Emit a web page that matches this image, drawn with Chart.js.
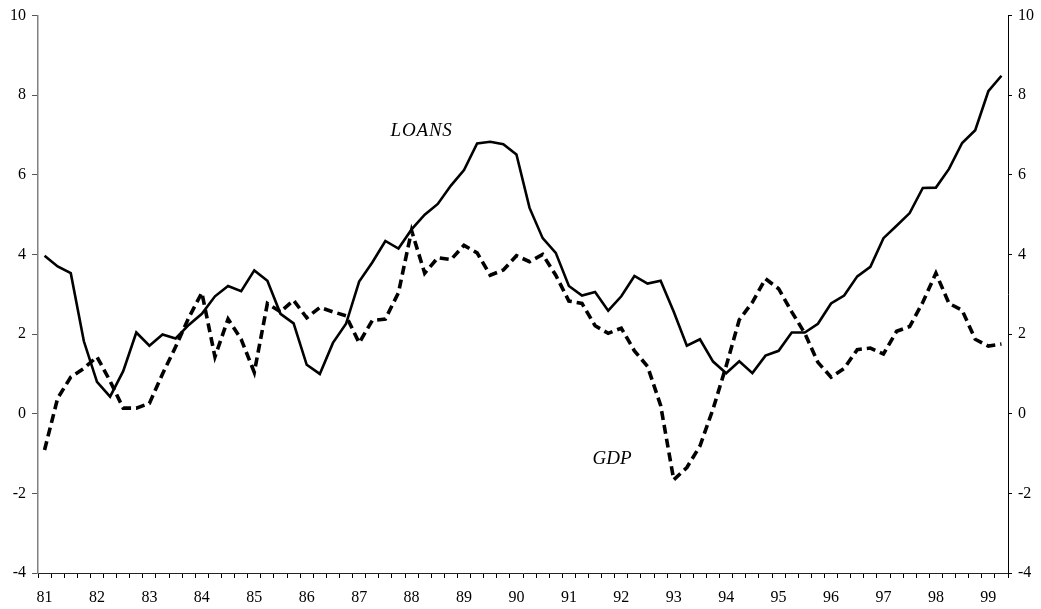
<!DOCTYPE html>
<html>
<head>
<meta charset="utf-8">
<script src="https://cdn.jsdelivr.net/npm/chart.js@4/dist/chart.umd.min.js"></script>
<style>
  html, body { margin: 0; padding: 0; background: #fff; }
  #wrap { width: 1041px; height: 609px; }
</style>
</head>
<body>
<div id="wrap"><canvas id="c" width="1041" height="609"></canvas></div>
<script>
// Quarterly observations, 1981Q1 - 1999Q2
const years = ['81','82','83','84','85','86','87','88','89','90','91','92','93','94','95','96','97','98','99'];
const quarters = [];
years.forEach(y => { for (let q = 1; q <= 4; q++) quarters.push(y + 'Q' + q); });
const categories = quarters.slice(0, 74);

// Bank loans, annual % change
const loans = [
  3.97, 3.70, 3.53, 1.82, 0.80, 0.43, 1.07, 2.04, 1.71, 1.99,
  1.89, 2.23, 2.51, 2.95, 3.21, 3.08, 3.60, 3.34, 2.51, 2.27,
  1.23, 1.00, 1.78, 2.26, 3.32, 3.80, 4.34, 4.15, 4.63, 5.00,
  5.27, 5.73, 6.12, 6.79, 6.83, 6.77, 6.51, 5.17, 4.41, 4.04,
  3.21, 2.97, 3.06, 2.59, 2.95, 3.46, 3.27, 3.34, 2.56, 1.71,
  1.87, 1.31, 1.02, 1.32, 1.02, 1.46, 1.58, 2.04, 2.04, 2.26,
  2.77, 2.97, 3.45, 3.69, 4.41, 4.72, 5.04, 5.67, 5.68, 6.15,
  6.80, 7.12, 8.10, 8.49
];

// Real GDP, annual % change
const gdp = [
  -0.91, 0.39, 0.92, 1.14, 1.43, 0.82, 0.14, 0.14, 0.26, 1.00,
  1.68, 2.41, 3.04, 1.43, 2.38, 1.87, 1.04, 2.77, 2.56, 2.85,
  2.41, 2.67, 2.56, 2.46, 1.78, 2.34, 2.38, 3.04, 4.60, 3.53,
  3.92, 3.87, 4.23, 4.04, 3.48, 3.61, 3.97, 3.82, 4.00, 3.48,
  2.83, 2.77, 2.21, 2.02, 2.15, 1.58, 1.19, 0.21, -1.66, -1.35,
  -0.81, 0.12, 1.20, 2.36, 2.80, 3.39, 3.14, 2.56, 2.02, 1.29,
  0.92, 1.14, 1.61, 1.65, 1.50, 2.07, 2.19, 2.80, 3.53, 2.77,
  2.60, 1.87, 1.70, 1.75
];

const yMin = -4, yMax = 10, yStep = 2;
const serif = "'Liberation Serif', 'Times New Roman', serif";

// Series names written beside the lines, placed in data coordinates
const seriesLabels = [
  { text: 'LOANS', at: 26.4, value: 6.98, spacing: '0.8px' },
  { text: 'GDP',   at: 41.8, value: -1.27, spacing: '0px' }
];

const labelPlugin = {
  id: 'seriesLabels',
  afterDatasetsDraw(chart) {
    const { ctx, scales } = chart;
    ctx.save();
    ctx.font = "italic 19px " + serif;
    ctx.fillStyle = '#000';
    ctx.textAlign = 'left';
    ctx.textBaseline = 'alphabetic';
    seriesLabels.forEach(l => {
      ctx.letterSpacing = l.spacing;
      ctx.fillText(l.text, scales.x.getPixelForValue(l.at), scales.y.getPixelForValue(l.value));
    });
    ctx.restore();
  }
};

const tickFont = { family: serif, size: 16 };

new Chart(document.getElementById('c'), {
  type: 'line',
  data: {
    labels: categories,
    datasets: [
      {
        label: 'LOANS',
        data: loans,
        borderColor: '#000',
        borderWidth: 2.6,
        pointRadius: 0,
        tension: 0,
        fill: false
      },
      {
        label: 'GDP',
        data: gdp,
        borderColor: '#000',
        borderWidth: 3.6,
        borderDash: [9, 5],
        pointRadius: 0,
        tension: 0,
        fill: false
      }
    ]
  },
  options: {
    responsive: false,
    animation: false,
    layout: { padding: { top: 13, left: 0, right: 0, bottom: 0 } },
    plugins: { legend: { display: false }, tooltip: { enabled: false } },
    scales: {
      x: {
        type: 'category',
        offset: true,
        grid: { offset: true, drawOnChartArea: false, drawTicks: true, tickLength: 5, color: '#000', lineWidth: 1 },
        border: { display: true, color: '#222', width: 1 },
        ticks: {
          autoSkip: false,
          maxRotation: 0,
          minRotation: 0,
          padding: 10,
          color: '#000',
          font: tickFont,
          callback: function (v, i) {
            const lab = categories[i];
            return lab.endsWith('Q1') ? lab.slice(0, 2) : '';
          }
        },
        afterFit: s => { s.height = 36; }
      },
      y: {
        position: 'left',
        min: yMin, max: yMax,
        grid: { drawOnChartArea: false, drawTicks: true, tickLength: 6, color: '#555' },
        border: { display: true, color: '#808080', width: 1.5 },
        ticks: { stepSize: yStep, padding: 6, color: '#000', font: tickFont },
        afterFit: s => { s.width = 38; }
      },
      y2: {
        position: 'right',
        min: yMin, max: yMax,
        grid: { drawOnChartArea: false, drawTicks: true, tickLength: 4, color: '#000' },
        border: { display: true, color: '#000', width: 1 },
        ticks: { stepSize: yStep, padding: 6, color: '#000', font: tickFont },
        afterFit: s => { s.width = 33; }
      }
    }
  },
  plugins: [labelPlugin]
});
</script>
</body>
</html>
